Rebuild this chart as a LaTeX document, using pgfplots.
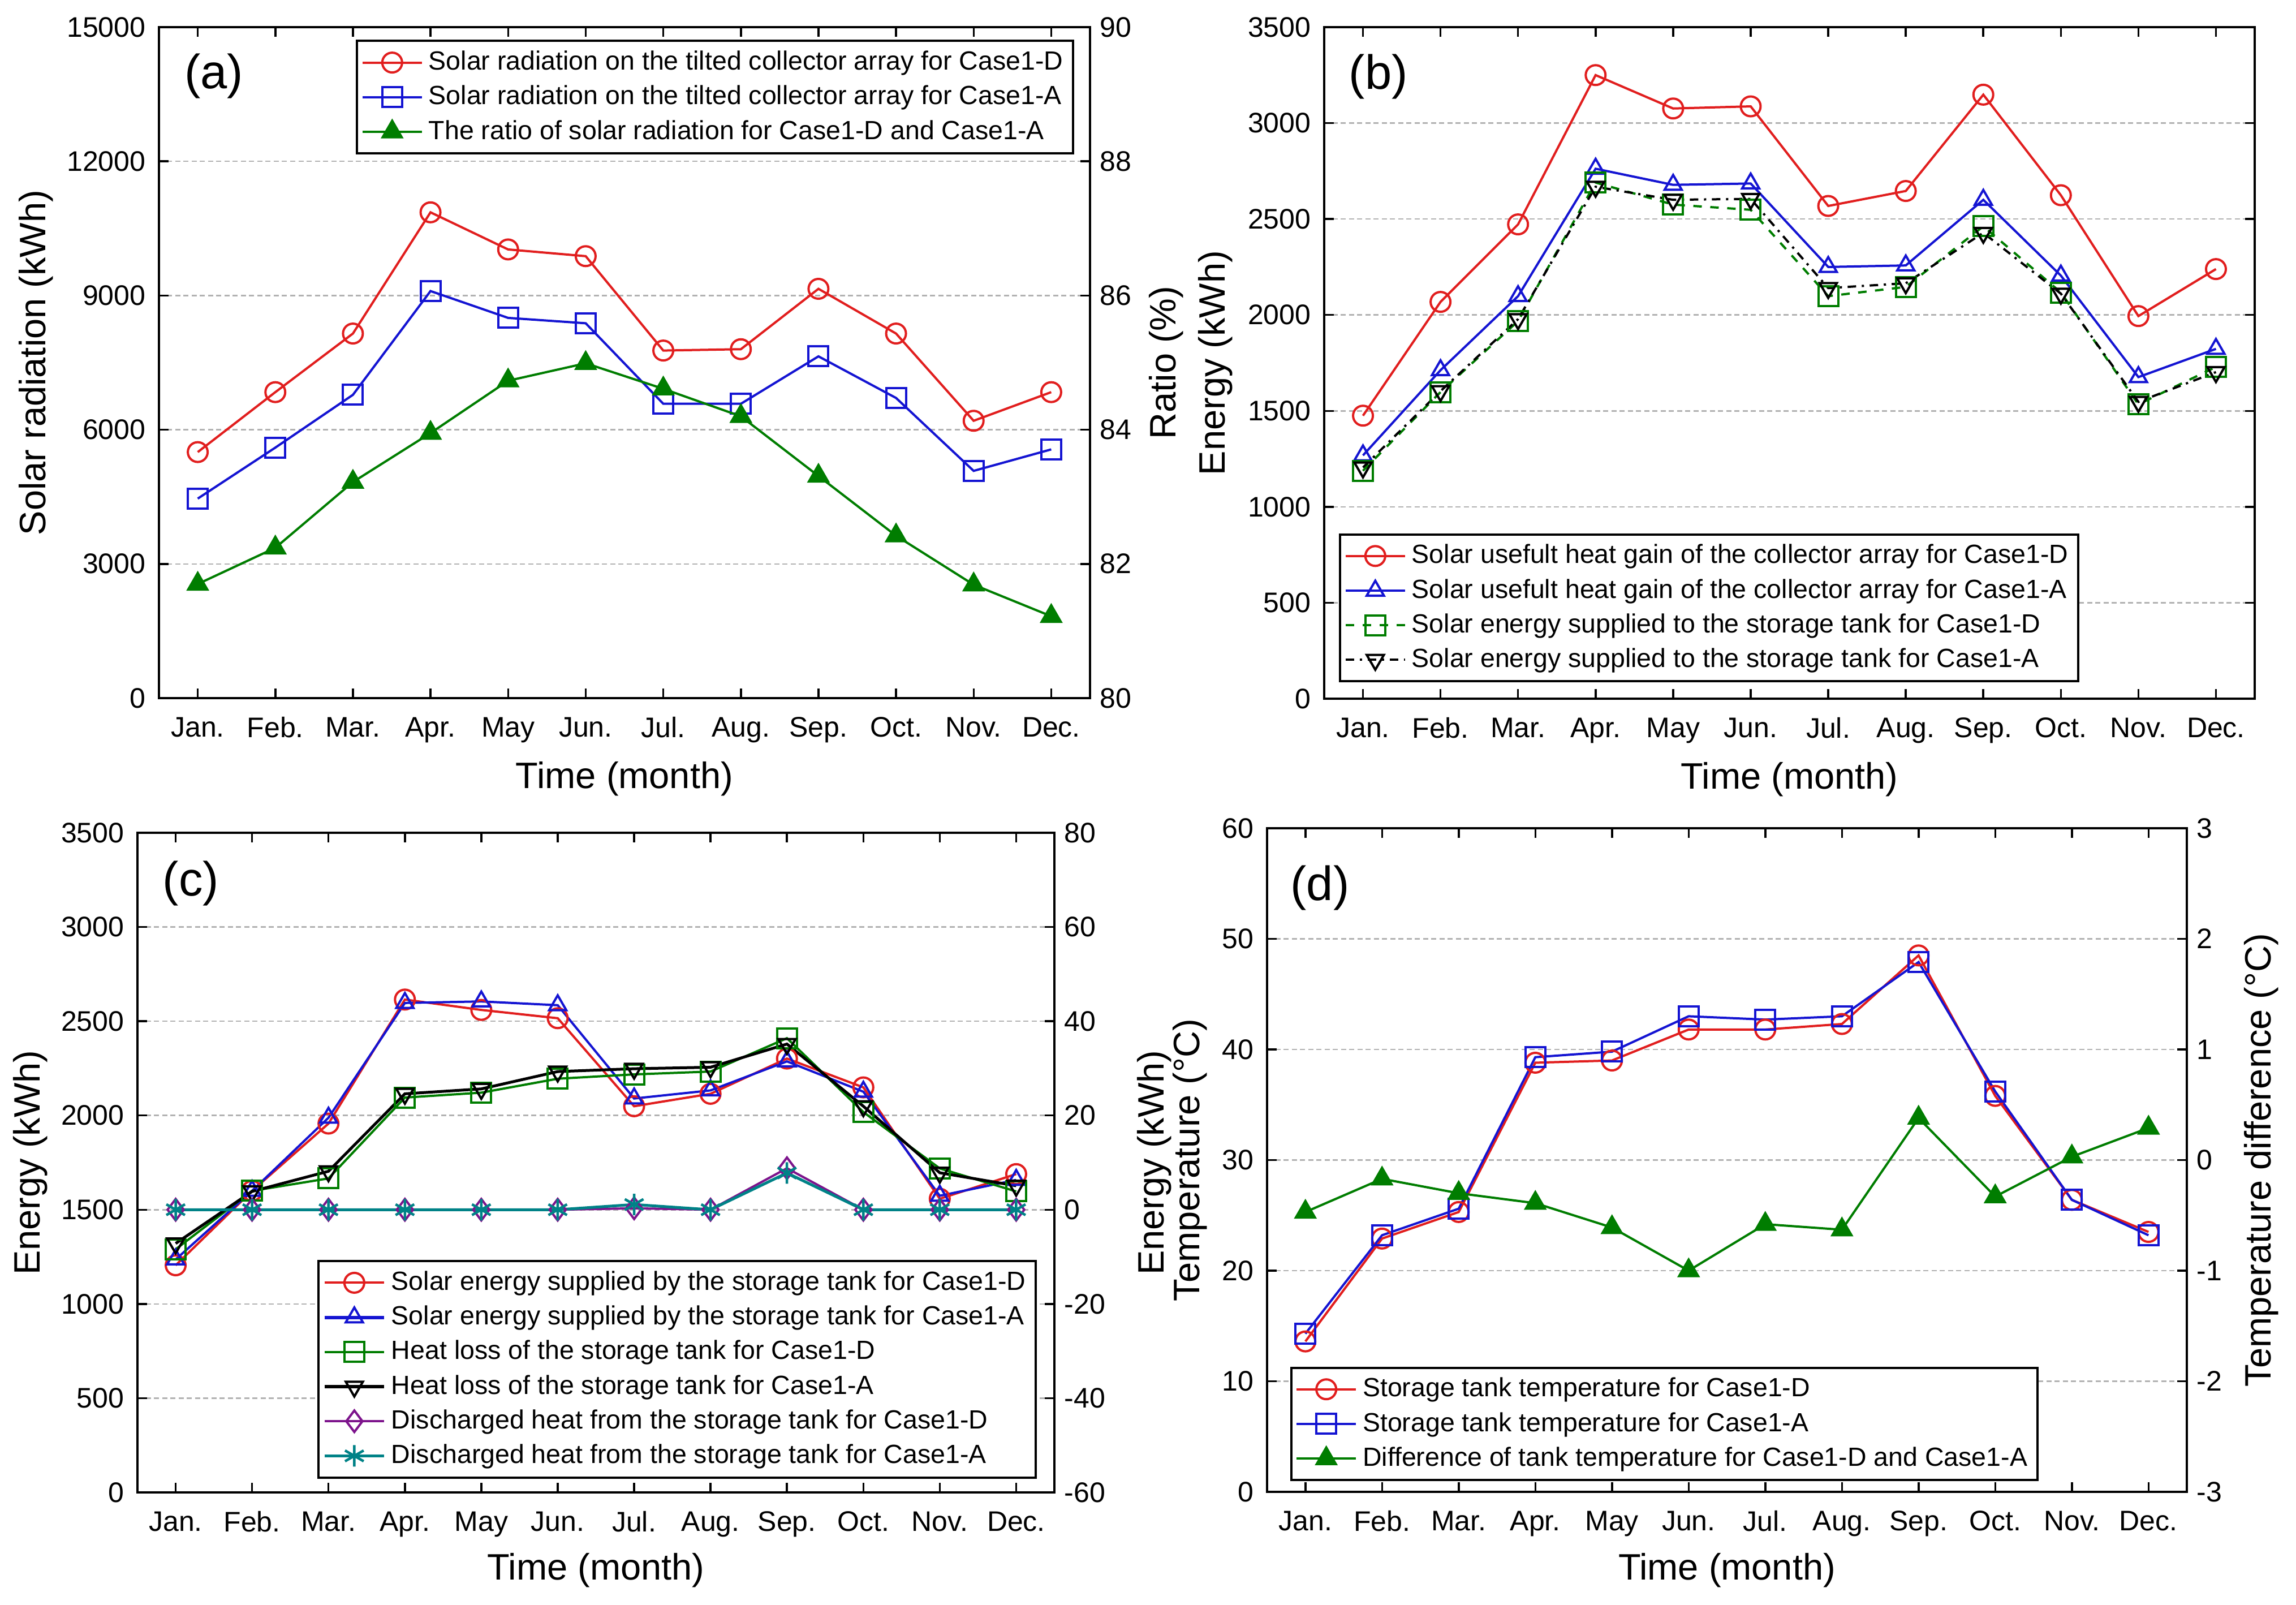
\documentclass[border=0pt]{standalone}
\usepackage{fontspec}
\setmainfont{Liberation Sans}
\usepackage{pgfplots}
\usepackage{pgfplotstable}
\pgfplotsset{compat=1.18}

\definecolor{cred}{RGB}{225,30,30}
\definecolor{cblue}{RGB}{20,20,210}
\definecolor{cgreen}{RGB}{0,125,0}
\definecolor{cpurple}{RGB}{125,20,140}
\definecolor{cteal}{RGB}{0,130,135}

\tikzset{plabel/.style={anchor=west, inner sep=0pt, font=\fontsize{17}{19}\selectfont}}

\pgfplotsset{
  panel/.style={
    scale only axis,
    xmin=0.5, xmax=12.5, xtick={1,...,12},
    xticklabels={Jan.,Feb.,Mar.,Apr.,May,Jun.,Jul.,Aug.,Sep.,Oct.,Nov.,Dec.},
    tick align=inside, major tick length=3.4pt,
    axis line style={line width=0.9pt},
    every tick/.style={black, line width=0.7pt},
    tick label style={font=\fontsize{10}{11}\selectfont},
    xticklabel style={yshift=-3.2pt},
    label style={font=\fontsize{13}{15}\selectfont},
    /pgf/number format/assume math mode=true,
    /pgf/number format/1000 sep={},
    scaled y ticks=false,
    legend cell align=left,
    legend style={draw=black, line width=0.8pt, fill=white,
      font=\fontsize{9.3}{11.8}\selectfont, inner sep=1.5pt},
    legend image code/.code={\draw[mark repeat=2,mark phase=2,#1]
      plot coordinates {(0pt,0pt)(10.5pt,0pt)(21pt,0pt)};},
    every axis plot/.append style={line width=0.8pt, mark size=3.5pt},
  },
  grids/.style={ymajorgrids,
    major grid style={black!30, dash pattern=on 1.8pt off 1.1pt, line width=0.5pt}},
  leftax/.style={panel, grids, ytick pos=left, yticklabel style={xshift=-1.2pt}},
  rightax/.style={panel, axis x line=none, axis y line*=right},
}

% panel (a): monthly solar radiation and ratio
\pgfplotstableread{
m rD rA ratio
1 5500 4460 81.70
2 6840 5600 82.24
3 8150 6780 83.22
4 10860 9100 83.95
5 10030 8500 84.73
6 9880 8380 84.99
7 7770 6580 84.61
8 7800 6580 84.20
9 9150 7640 83.31
10 8150 6710 82.42
11 6200 5080 81.69
12 6840 5560 81.22
}\tabA

% panel (b): useful heat gain and energy to tank
\pgfplotstableread{
m uD uA sD sA
1 1475 1268 1188 1205
2 2068 1712 1598 1603
3 2472 2098 1968 1978
4 3250 2762 2690 2668
5 3076 2678 2575 2600
6 3087 2685 2548 2605
7 2568 2250 2098 2140
8 2646 2258 2146 2165
9 3148 2600 2462 2428
10 2624 2205 2117 2111
11 1994 1676 1534 1547
12 2239 1823 1729 1702
}\tabB

% panel (c): tank energy balance
\pgfplotstableread{
m sD sA hD hA
1 1205 1236 1290 1321
2 1600 1600 1600 1597
3 1957 1988 1666 1704
4 2615 2597 2095 2115
5 2560 2605 2121 2141
6 2516 2585 2195 2233
7 2049 2090 2218 2248
8 2115 2133 2233 2256
9 2302 2287 2410 2379
10 2149 2126 2018 2049
11 1558 1574 1719 1696
12 1689 1658 1597 1627
}\tabC
\pgfplotstableread{
m dD dA
1 0 0
2 0 0
3 0 0
4 0 0
5 0 0
6 0 0
7 0.3 1.1
8 0 0
9 8.8 7.8
10 0 0
11 0 0
12 0 0
}\tabCr

% panel (d): tank temperature
\pgfplotstableread{
m tD tA diff
1 13.6 14.3 -0.47
2 22.9 23.2 -0.17
3 25.3 25.6 -0.30
4 38.8 39.3 -0.39
5 39.0 39.8 -0.61
6 41.8 43.0 -1.00
7 41.8 42.7 -0.58
8 42.3 43.0 -0.63
9 48.5 47.9 0.38
10 35.8 36.2 -0.33
11 26.4 26.4 0.03
12 23.5 23.2 0.29
}\tabD

\begin{document}
\begin{tikzpicture}
\path[use as bounding box] (0,0) rectangle (811.8pt,567.4pt);

%%%%% (a)
\begin{axis}[leftax, at={(56.2pt,320.6pt)}, anchor=south west,
    width=329.2pt, height=237.2pt,
    ymin=0, ymax=15000, ytick={0,3000,...,15000},
    ylabel={Solar radiation (kWh)}, xlabel={Time (month)},
    ylabel style={at={(axis description cs:-0.132,0.5)}, anchor=center},
    xlabel style={at={(axis description cs:0.5,-0.12)}, anchor=center}]
\addplot[cred, mark=o] table[x=m, y=rD] {\tabA};
\addplot[cblue, mark=square] table[x=m, y=rA] {\tabA};
\node[plabel] at (rel axis cs:0.027,0.927) {(a)};
\end{axis}
\begin{axis}[rightax, at={(56.2pt,320.6pt)}, anchor=south west,
    width=329.2pt, height=237.2pt,
    ymin=80, ymax=90, ytick={80,82,...,90},
    ylabel={Ratio (\%)},
    ylabel style={at={(axis description cs:1.082,0.5)}, anchor=center},
    legend style={at={(0.983,0.981)}, anchor=north east}]
\addlegendimage{cred, mark=o, line width=0.8pt, mark size=3.5pt}
\addlegendentry{Solar radiation on the tilted collector array for Case1-D}
\addlegendimage{cblue, mark=square, line width=0.8pt, mark size=3.5pt}
\addlegendentry{Solar radiation on the tilted collector array for Case1-A}
\addplot[cgreen, mark=triangle*, mark size=3.9pt] table[x=m, y=ratio] {\tabA};
\addlegendentry{The ratio of solar radiation for Case1-D and Case1-A}
\end{axis}

%%%%% (b)
\begin{axis}[panel, grids, yticklabel style={xshift=-1.2pt},
    at={(468.2pt,320.4pt)}, anchor=south west,
    width=329pt, height=237.4pt,
    ymin=0, ymax=3500, ytick={0,500,...,3500},
    ylabel={Energy (kWh)}, xlabel={Time (month)},
    ylabel style={at={(axis description cs:-0.117,0.5)}, anchor=center},
    xlabel style={at={(axis description cs:0.5,-0.12)}, anchor=center},
    legend style={at={(0.016,0.024)}, anchor=south west}]
\addplot[cred, mark=o] table[x=m, y=uD] {\tabB};
\addlegendentry{Solar usefult heat gain of the collector array for Case1-D}
\addplot[cblue, mark=triangle] table[x=m, y=uA] {\tabB};
\addlegendentry{Solar usefult heat gain of the collector array for Case1-A}
\addplot[cgreen, dashed, mark=square, mark options={solid}] table[x=m, y=sD] {\tabB};
\addlegendentry{Solar energy supplied to the storage tank for Case1-D}
\addplot[black, dash dot, mark=triangle, mark options={solid, rotate=180}] table[x=m, y=sA] {\tabB};
\addlegendentry{Solar energy supplied to the storage tank for Case1-A}
\node[plabel] at (rel axis cs:0.026,0.926) {(b)};
\end{axis}

%%%%% (c)
\begin{axis}[leftax, at={(48.6pt,39.8pt)}, anchor=south west,
    width=324.2pt, height=233.2pt,
    ymin=0, ymax=3500, ytick={0,500,...,3500},
    ylabel={Energy (kWh)}, xlabel={Time (month)},
    ylabel style={at={(axis description cs:-0.117,0.5)}, anchor=center},
    xlabel style={at={(axis description cs:0.5,-0.118)}, anchor=center}]
\addplot[cred, mark=o] table[x=m, y=sD] {\tabC};
\addplot[cblue, mark=triangle] table[x=m, y=sA] {\tabC};
\addplot[cgreen, mark=square] table[x=m, y=hD] {\tabC};
\addplot[black, line width=1pt, mark=triangle, mark options={rotate=180, line width=0.8pt}] table[x=m, y=hA] {\tabC};
\node[plabel] at (rel axis cs:0.027,0.923) {(c)};
\end{axis}
\begin{axis}[rightax, at={(48.6pt,39.8pt)}, anchor=south west,
    width=324.2pt, height=233.2pt,
    ymin=-60, ymax=80, ytick={-60,-40,...,80},
    ylabel={Energy (kWh)},
    ylabel style={at={(axis description cs:1.109,0.5)}, anchor=center},
    legend style={at={(0.981,0.021)}, anchor=south east}]
\addlegendimage{cred, mark=o, line width=0.8pt, mark size=3.5pt}
\addlegendentry{Solar energy supplied by the storage tank for Case1-D}
\addlegendimage{cblue, mark=triangle, line width=1.2pt, mark size=3.5pt, mark options={line width=0.8pt}}
\addlegendentry{Solar energy supplied by the storage tank for Case1-A}
\addlegendimage{cgreen, mark=square, line width=0.8pt, mark size=3.5pt}
\addlegendentry{Heat loss of the storage tank for Case1-D}
\addlegendimage{black, mark=triangle, line width=1.2pt, mark size=3.5pt, mark options={rotate=180, line width=0.8pt}}
\addlegendentry{Heat loss of the storage tank for Case1-A}
\addplot[cpurple, mark=diamond, mark size=3.8pt] table[x=m, y=dD] {\tabCr};
\addlegendentry{Discharged heat from the storage tank for Case1-D}
\addplot[cteal, line width=1pt, mark=asterisk, mark size=3.8pt, mark options={line width=0.9pt}] table[x=m, y=dA] {\tabCr};
\addlegendentry{Discharged heat from the storage tank for Case1-A}
\end{axis}

%%%%% (d)
\begin{axis}[leftax, at={(448pt,40pt)}, anchor=south west,
    width=325.2pt, height=234.6pt,
    ymin=0, ymax=60, ytick={0,10,...,60},
    ylabel={Temperature (°C)}, xlabel={Time (month)},
    ylabel style={at={(axis description cs:-0.084,0.5)}, anchor=center},
    xlabel style={at={(axis description cs:0.5,-0.118)}, anchor=center}]
\addplot[cred, mark=o] table[x=m, y=tD] {\tabD};
\addplot[cblue, mark=square] table[x=m, y=tA] {\tabD};
\node[plabel] at (rel axis cs:0.025,0.91) {(d)};
\end{axis}
\begin{axis}[rightax, at={(448pt,40pt)}, anchor=south west,
    width=325.2pt, height=234.6pt,
    ymin=-3, ymax=3, ytick={-3,-2,...,3},
    ylabel={Temperature difference (°C)},
    ylabel style={at={(axis description cs:1.081,0.5)}, anchor=center},
    legend style={at={(0.025,0.016)}, anchor=south west}]
\addlegendimage{cred, mark=o, line width=0.8pt, mark size=3.5pt}
\addlegendentry{Storage tank temperature for Case1-D}
\addlegendimage{cblue, mark=square, line width=0.8pt, mark size=3.5pt}
\addlegendentry{Storage tank temperature for Case1-A}
\addplot[cgreen, mark=triangle*, mark size=3.9pt] table[x=m, y=diff] {\tabD};
\addlegendentry{Difference of tank temperature for Case1-D and Case1-A}
\end{axis}
\end{tikzpicture}
\end{document}
